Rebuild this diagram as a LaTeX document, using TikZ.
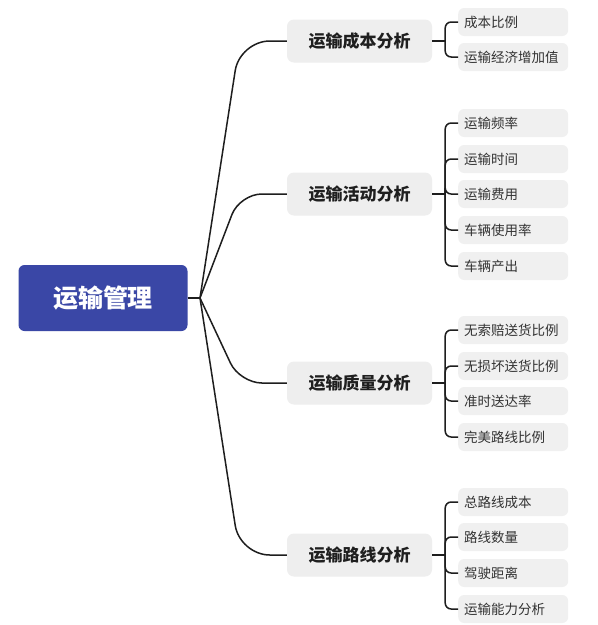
\documentclass[tikz,border=0pt]{standalone}
\usepackage{fontspec}
\setmainfont{Noto Sans CJK SC}
\usetikzlibrary{calc}
\definecolor{rootblue}{RGB}{58,71,166}
\definecolor{boxgray}{RGB}{238,238,238}
\definecolor{leafgray}{RGB}{240,240,240}
\definecolor{linec}{RGB}{30,30,30}
\begin{document}
\begin{tikzpicture}[x=1pt,y=-1pt,
  rootbox/.style={fill=rootblue, rounded corners=6pt, minimum width=169pt, minimum height=66pt, inner sep=0pt, text=white, font=\bfseries\fontsize{25}{25}\selectfont},
  lonebox/.style={fill=boxgray, rounded corners=7pt, minimum width=145pt, minimum height=43pt, inner sep=0pt, text=black!88, font=\bfseries\fontsize{17}{17}\selectfont},
  leafbox/.style={fill=leafgray, rounded corners=6pt, anchor=west, minimum height=28pt, text width=98pt, inner xsep=6pt, inner ysep=0pt, align=left, text=black!80, font=\fontsize{13.5}{13.5}\selectfont},
  conn/.style={draw=linec, line width=1.5pt},
]
\useasboundingbox (0,0) rectangle (598,625);
\fill[white] (0,0) rectangle (598,625);

\node[rootbox] (root) at (103,298) {运输管理};
\coordinate (j) at (200,298);

\node[lonebox] (c1) at (359.5,41) {运输成本分析};
\node[lonebox] (c2) at (359.5,194) {运输活动分析};
\node[lonebox] (c3) at (359.5,383) {运输质量分析};
\node[lonebox] (c4) at (359.5,555) {运输路线分析};

\node[leafbox] (a1) at (458,22) {成本比例};
\node[leafbox] (a2) at (458,57) {运输经济增加值};

\node[leafbox] (b1) at (458,123) {运输频率};
\node[leafbox] (b2) at (458,159) {运输时间};
\node[leafbox] (b3) at (458,194) {运输费用};
\node[leafbox] (b4) at (458,230) {车辆使用率};
\node[leafbox] (b5) at (458,266) {车辆产出};

\node[leafbox] (q1) at (458,330) {无索赔送货比例};
\node[leafbox] (q2) at (458,366) {无损坏送货比例};
\node[leafbox] (q3) at (458,401) {准时送达率};
\node[leafbox] (q4) at (458,437) {完美路线比例};

\node[leafbox] (r1) at (458,502) {总路线成本};
\node[leafbox] (r2) at (458,537) {路线数量};
\node[leafbox] (r3) at (458,573) {驾驶距离};
\node[leafbox] (r4) at (458,609) {运输能力分析};

\draw[conn] (root.east) -- (j);
\foreach \c/\r in {c1/30pt, c2/22pt, c3/22pt, c4/30pt}{
  \draw[conn, rounded corners=\r] (j) -- ($(\c.west)+(-47,0)$) -- (\c.west);
  \coordinate (k\c) at ($(\c.east)+(13,0)$);
  \draw[conn] (\c.east) -- (k\c);
}
\foreach \l in {a1,a2}{\draw[conn, rounded corners=6pt] (kc1) |- (\l.west);}
\foreach \l in {b1,b2,b3,b4,b5}{\draw[conn, rounded corners=6pt] (kc2) |- (\l.west);}
\foreach \l in {q1,q2,q3,q4}{\draw[conn, rounded corners=6pt] (kc3) |- (\l.west);}
\foreach \l in {r1,r2,r3,r4}{\draw[conn, rounded corners=6pt] (kc4) |- (\l.west);}
\end{tikzpicture}
\end{document}
